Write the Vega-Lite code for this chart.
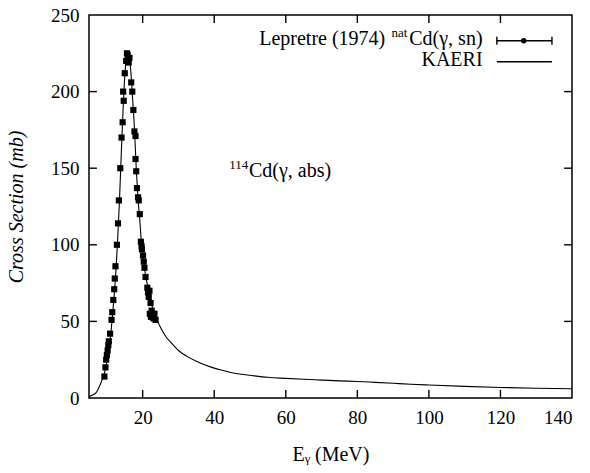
{
  "$schema": "https://vega.github.io/schema/vega-lite/v6.json",
  "width": 483,
  "height": 383,
  "autosize": {"type": "none"},
  "padding": {"left": 89, "top": 15, "right": 18, "bottom": 75},
  "background": "white",
  "config": {
    "font": "Liberation Serif",
    "view": {"stroke": "black", "strokeWidth": 1.5},
    "axis": {"grid": false, "domain": false, "ticks": false, "labelColor": "black", "titleColor": "black", "labelFontSize": 19, "titleFontSize": 20, "titleFontWeight": "normal"}
  },
  "datasets": {
    "kaeri": [
      {"E": 5, "s": 0.5}, {"E": 5.5, "s": 1.5}, {"E": 6, "s": 2}, {"E": 7, "s": 3.5}, {"E": 8, "s": 8},
      {"E": 8.5, "s": 11}, {"E": 9, "s": 14}, {"E": 9.5, "s": 18}, {"E": 10, "s": 24}, {"E": 10.5, "s": 31},
      {"E": 11, "s": 40}, {"E": 11.5, "s": 52}, {"E": 12, "s": 66}, {"E": 12.5, "s": 82}, {"E": 13, "s": 103},
      {"E": 13.5, "s": 128}, {"E": 14, "s": 158}, {"E": 14.5, "s": 187}, {"E": 15, "s": 210}, {"E": 15.5, "s": 223},
      {"E": 15.8, "s": 226}, {"E": 16.2, "s": 224}, {"E": 16.7, "s": 213}, {"E": 17.2, "s": 195}, {"E": 17.7, "s": 176},
      {"E": 18.2, "s": 150}, {"E": 18.7, "s": 130}, {"E": 19.2, "s": 116}, {"E": 19.7, "s": 100}, {"E": 20.2, "s": 91},
      {"E": 20.8, "s": 80}, {"E": 21.5, "s": 72}, {"E": 22.2, "s": 64}, {"E": 23, "s": 57}, {"E": 24, "s": 51},
      {"E": 25, "s": 46}, {"E": 26.5, "s": 40}, {"E": 28, "s": 36}, {"E": 30, "s": 31}, {"E": 32.5, "s": 27},
      {"E": 35, "s": 24}, {"E": 37.5, "s": 21.5}, {"E": 40, "s": 19.5}, {"E": 42.5, "s": 18}, {"E": 45, "s": 16.5},
      {"E": 47.5, "s": 15.5}, {"E": 50, "s": 14.8}, {"E": 55, "s": 13.5}, {"E": 60, "s": 12.8}, {"E": 65, "s": 12.2},
      {"E": 70, "s": 11.7}, {"E": 75, "s": 11.2}, {"E": 80, "s": 10.8}, {"E": 85, "s": 10.2}, {"E": 90, "s": 9.6},
      {"E": 95, "s": 9.0}, {"E": 100, "s": 8.5}, {"E": 110, "s": 7.6}, {"E": 120, "s": 6.9}, {"E": 130, "s": 6.4},
      {"E": 140, "s": 6.0}
    ],
    "lepretre": [
      {"E": 9.3, "s": 14}, {"E": 9.6, "s": 20}, {"E": 9.8, "s": 25}, {"E": 10.0, "s": 28}, {"E": 10.2, "s": 31},
      {"E": 10.4, "s": 34.5}, {"E": 10.55, "s": 37}, {"E": 10.9, "s": 42}, {"E": 11.3, "s": 51}, {"E": 11.5, "s": 56},
      {"E": 11.8, "s": 64}, {"E": 12.05, "s": 71}, {"E": 12.2, "s": 78}, {"E": 12.4, "s": 86}, {"E": 12.8, "s": 100},
      {"E": 13.1, "s": 114}, {"E": 13.35, "s": 129}, {"E": 13.75, "s": 150}, {"E": 14.1, "s": 170}, {"E": 14.4, "s": 180},
      {"E": 14.55, "s": 200}, {"E": 14.7, "s": 194}, {"E": 15.0, "s": 212}, {"E": 15.4, "s": 220}, {"E": 15.6, "s": 225},
      {"E": 15.8, "s": 224}, {"E": 16.1, "s": 219}, {"E": 16.3, "s": 222}, {"E": 16.8, "s": 206}, {"E": 17.1, "s": 200},
      {"E": 17.4, "s": 188}, {"E": 17.7, "s": 174}, {"E": 18.0, "s": 171}, {"E": 18.0, "s": 156}, {"E": 18.2, "s": 148},
      {"E": 18.4, "s": 137}, {"E": 18.7, "s": 131}, {"E": 18.9, "s": 129}, {"E": 19.2, "s": 120}, {"E": 19.5, "s": 102},
      {"E": 19.7, "s": 99}, {"E": 19.8, "s": 97}, {"E": 20.1, "s": 93}, {"E": 20.3, "s": 89}, {"E": 20.5, "s": 85},
      {"E": 20.8, "s": 79}, {"E": 21.3, "s": 72}, {"E": 21.5, "s": 69}, {"E": 21.7, "s": 66}, {"E": 21.9, "s": 70},
      {"E": 22.2, "s": 62}, {"E": 22.0, "s": 55}, {"E": 22.3, "s": 53}, {"E": 22.7, "s": 54}, {"E": 23.0, "s": 52},
      {"E": 23.3, "s": 55}, {"E": 23.6, "s": 51}, {"E": 22.5, "s": 57}
    ],
    "rules": [
      {"E1": 119, "E2": 134.4, "s1": 233.2, "s2": 233.2},
      {"E1": 119, "E2": 119, "s1": 230.6, "s2": 235.8},
      {"E1": 134.4, "E2": 134.4, "s1": 230.6, "s2": 235.8},
      {"E1": 119, "E2": 134.4, "s1": 219.5, "s2": 219.5},
      {"E1": 20, "E2": 20, "s1": 0, "s2": 5.2}, {"E1": 40, "E2": 40, "s1": 0, "s2": 5.2},
      {"E1": 60, "E2": 60, "s1": 0, "s2": 5.2}, {"E1": 80, "E2": 80, "s1": 0, "s2": 5.2},
      {"E1": 100, "E2": 100, "s1": 0, "s2": 5.2}, {"E1": 120, "E2": 120, "s1": 0, "s2": 5.2},
      {"E1": 20, "E2": 20, "s1": 244.8, "s2": 250}, {"E1": 40, "E2": 40, "s1": 244.8, "s2": 250},
      {"E1": 60, "E2": 60, "s1": 244.8, "s2": 250}, {"E1": 80, "E2": 80, "s1": 244.8, "s2": 250},
      {"E1": 100, "E2": 100, "s1": 244.8, "s2": 250}, {"E1": 120, "E2": 120, "s1": 244.8, "s2": 250},
      {"E1": 5, "E2": 7.2, "s1": 50, "s2": 50}, {"E1": 5, "E2": 7.2, "s1": 100, "s2": 100},
      {"E1": 5, "E2": 7.2, "s1": 150, "s2": 150}, {"E1": 5, "E2": 7.2, "s1": 200, "s2": 200},
      {"E1": 137.8, "E2": 140, "s1": 50, "s2": 50}, {"E1": 137.8, "E2": 140, "s1": 100, "s2": 100},
      {"E1": 137.8, "E2": 140, "s1": 150, "s2": 150}, {"E1": 137.8, "E2": 140, "s1": 200, "s2": 200}
    ],
    "legendDot": [{"E": 126.5, "s": 233.2}],
    "rightText": [
      {"E": 87.8, "s": 230.5, "t": "Lepretre (1974)"},
      {"E": 115.0, "s": 230.5, "t": "Cd(γ, sn)"},
      {"E": 115.0, "s": 217.0, "t": "KAERI"}
    ],
    "leftText": [
      {"E": 49.7, "s": 144.3, "t": "Cd(γ, abs)"}
    ],
    "smallText": [
      {"E": 94.0, "s": 235.8, "t": "nat"},
      {"E": 49.5, "s": 149.5, "t": "114"}
    ]
  },
  "layer": [
    {
      "data": {"name": "kaeri"},
      "mark": {"type": "line", "color": "black", "strokeWidth": 1.1, "interpolate": "monotone"},
      "encoding": {
        "x": {"field": "E", "type": "quantitative", "scale": {"domain": [5, 140], "nice": false, "zero": false},
          "axis": {"orient": "bottom", "values": [20, 40, 60, 80, 100, 120, 140], "labelPadding": 10, "title": "Eᵧ (MeV)", "titlePadding": 17}},
        "y": {"field": "s", "type": "quantitative", "scale": {"domain": [0, 250], "nice": false},
          "axis": {"orient": "left", "values": [0, 50, 100, 150, 200, 250], "labelPadding": 10, "title": "Cross Section (mb)", "titleFontStyle": "italic", "titlePadding": 24}}
      }
    },
    {
      "data": {"name": "lepretre"},
      "mark": {"type": "point", "shape": "square", "filled": true, "color": "black", "size": 38, "opacity": 1},
      "encoding": {
        "x": {"field": "E", "type": "quantitative", "scale": {"domain": [5, 140], "nice": false, "zero": false}},
        "y": {"field": "s", "type": "quantitative", "scale": {"domain": [0, 250], "nice": false}}
      }
    },
    {
      "data": {"name": "rules"},
      "mark": {"type": "rule", "color": "black", "strokeWidth": 1.4},
      "encoding": {
        "x": {"field": "E1", "type": "quantitative", "scale": {"domain": [5, 140], "nice": false, "zero": false}},
        "x2": {"field": "E2"},
        "y": {"field": "s1", "type": "quantitative", "scale": {"domain": [0, 250], "nice": false}},
        "y2": {"field": "s2"}
      }
    },
    {
      "data": {"name": "legendDot"},
      "mark": {"type": "point", "shape": "circle", "filled": true, "color": "black", "size": 30, "opacity": 1},
      "encoding": {
        "x": {"field": "E", "type": "quantitative", "scale": {"domain": [5, 140], "nice": false, "zero": false}},
        "y": {"field": "s", "type": "quantitative", "scale": {"domain": [0, 250], "nice": false}}
      }
    },
    {
      "data": {"name": "rightText"},
      "mark": {"type": "text", "fontSize": 20, "color": "black", "baseline": "alphabetic", "align": "right"},
      "encoding": {
        "x": {"field": "E", "type": "quantitative", "scale": {"domain": [5, 140], "nice": false, "zero": false}},
        "y": {"field": "s", "type": "quantitative", "scale": {"domain": [0, 250], "nice": false}},
        "text": {"field": "t"}
      }
    },
    {
      "data": {"name": "leftText"},
      "mark": {"type": "text", "fontSize": 20, "color": "black", "baseline": "alphabetic", "align": "left"},
      "encoding": {
        "x": {"field": "E", "type": "quantitative", "scale": {"domain": [5, 140], "nice": false, "zero": false}},
        "y": {"field": "s", "type": "quantitative", "scale": {"domain": [0, 250], "nice": false}},
        "text": {"field": "t"}
      }
    },
    {
      "data": {"name": "smallText"},
      "mark": {"type": "text", "fontSize": 13, "color": "black", "baseline": "alphabetic", "align": "right"},
      "encoding": {
        "x": {"field": "E", "type": "quantitative", "scale": {"domain": [5, 140], "nice": false, "zero": false}},
        "y": {"field": "s", "type": "quantitative", "scale": {"domain": [0, 250], "nice": false}},
        "text": {"field": "t"}
      }
    }
  ]
}
